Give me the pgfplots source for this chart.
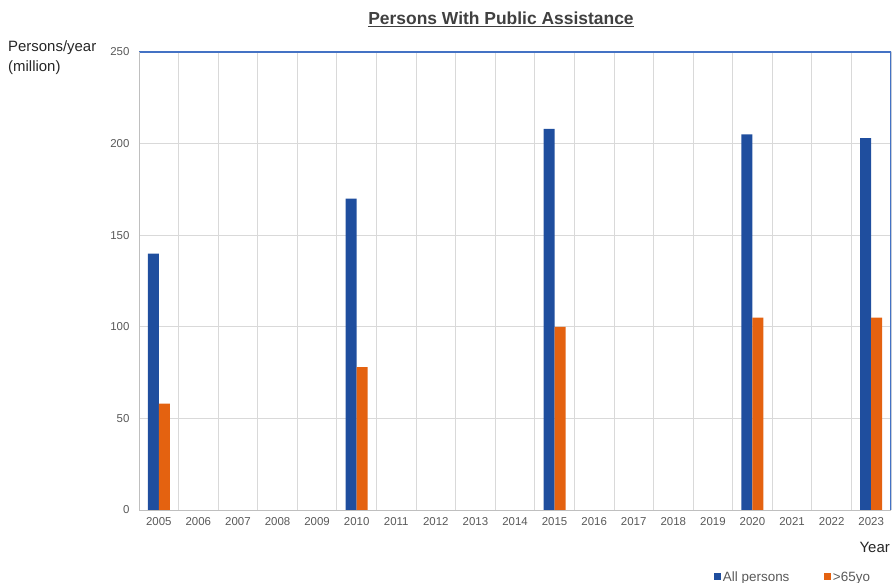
\documentclass[border=0pt]{standalone}
\usepackage{fontspec}
\setmainfont{Liberation Sans}
\usepackage{pgfplots}
\pgfplotsset{compat=1.18}
\definecolor{barblue}{HTML}{1F4E9E}
\definecolor{barorange}{HTML}{E46210}
\definecolor{gridgray}{HTML}{D9D9D9}
\definecolor{axisgray}{HTML}{BFBFBF}
\definecolor{borderblue}{HTML}{4472C4}
\definecolor{tickgray}{HTML}{595959}
\definecolor{titlegray}{HTML}{404040}
\definecolor{labeltext}{HTML}{262626}
\begin{document}
\begin{tikzpicture}[x=1bp,y=1bp]
\begin{axis}[
  at={(0,0)}, anchor=south west,
  scale only axis, width=752bp, height=458bp,
  xmin=-0.5, xmax=18.5, ymin=0, ymax=250,
  ybar=0pt, bar width=11bp,
  xtick={0,...,18},
  xticklabels={2005,2006,2007,2008,2009,2010,2011,2012,2013,2014,2015,2016,2017,2018,2019,2020,2021,2022,2023},
  minor xtick={-0.5,0.5,...,18.5},
  ytick={0,50,100,150,200,250},
  xminorgrids, ymajorgrids,
  major tick length=0pt, minor tick length=0pt,
  grid style={draw=gridgray, line width=0.9bp},
  minor grid style={draw=gridgray, line width=0.9bp},
  axis line style={draw=none},
  tick label style={font=\fontsize{11.5}{13}\selectfont, text=tickgray},
  /pgf/number format/assume math mode=true,
  yticklabel style={xshift=-6bp},
  xticklabel style={yshift=-4bp},
  legend columns=2,
  legend style={at={(0.761,-0.146)}, anchor=west, draw=none, fill=none,
    font=\fontsize{13.5}{15}\selectfont, text=tickgray,
    /tikz/every even column/.append style={column sep=33bp}},
  legend image code/.code={\fill[#1] (0bp,-3.5bp) rectangle (6.5bp,3.5bp);},
]
\addplot[fill=barblue, draw=none] coordinates {(0,140) (5,170) (10,208) (15,205) (18,203)};
\addlegendentry{\strut All persons}
\addplot[fill=barorange, draw=none] coordinates {(0,58) (5,78) (10,100) (15,105) (18,105)};
\addlegendentry{\strut >65yo}
\draw[borderblue, line width=1.1bp] (rel axis cs:0,1) -- (rel axis cs:1,1) -- (rel axis cs:1,0);
\draw[axisgray, line width=1bp] (rel axis cs:0,1) -- (rel axis cs:0,0) -- (rel axis cs:1,0);
\end{axis}
\node[font=\bfseries\fontsize{17.5}{20}\selectfont, text=titlegray] at (362bp,491bp) {\underline{Persons With Public Assistance}};
\node[anchor=north west, align=left, inner sep=0pt, font=\fontsize{15}{20.5}\selectfont, text=labeltext] at (-131bp,470bp) {Persons/year\\(million)};
\node[anchor=base east, inner sep=0pt, font=\fontsize{15}{18}\selectfont, text=labeltext] at (751bp,-42bp) {Year};
\pgfresetboundingbox
\useasboundingbox (-139bp,-73bp) rectangle (755bp,510bp);
\end{tikzpicture}
\end{document}
